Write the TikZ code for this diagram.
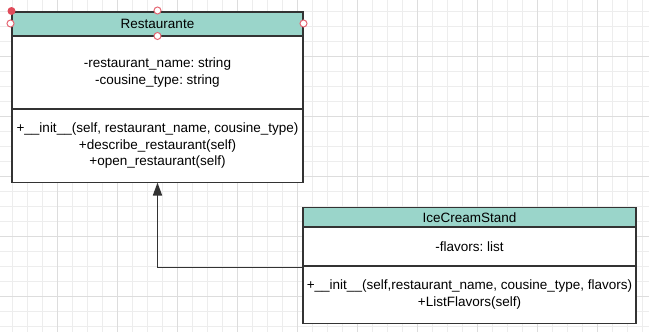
\documentclass[tikz,border=0pt]{standalone}
\usepackage{fontspec}
\setmainfont{Liberation Sans}
\usepackage{xcolor}
\usepackage{tikz}
\usetikzlibrary{
  arrows.meta,
  positioning
}
\definecolor{umlteal}{RGB}{154, 213, 202}
\definecolor{umlline}{RGB}{51, 51, 51}
\definecolor{gridminor}{RGB}{237, 237, 237}
\definecolor{gridmajor}{RGB}{221, 221, 221}
\definecolor{handlered}{RGB}{224, 75, 90}
\frenchspacing

\begin{document}
\begin{tikzpicture}[
  x=1pt, y=-1pt,
  umlbase/.style={
    draw=umlline, line width=1.3pt, anchor=north west,
    inner sep=0pt, outer sep=0pt, align=center,
    font=\fontsize{13.5}{16.5}\selectfont
  },
  headbox/.style={umlbase, fill=umlteal},
  partbox/.style={umlbase, fill=white},
  inherit/.style={-{Triangle[length=13pt, width=9pt]}, line width=1.5pt, draw=umlline},
  handle/.style={circle, draw=handlered!85, fill=white, line width=1pt, minimum size=7pt, inner sep=0pt},
  handlesel/.style={circle, fill=handlered, minimum size=8pt, inner sep=0pt}
]
\useasboundingbox (0,0) rectangle (649,332);
% grid paper
\foreach \k in {0,...,44}
  \draw[gridminor, line width=0.8pt] (-3+15*\k, 0) -- (-3+15*\k, 332);
\foreach \k in {0,...,23}
  \draw[gridminor, line width=0.8pt] (0, -3.3+15*\k) -- (649, -3.3+15*\k);
\foreach \k in {0,...,11}
  \draw[gridmajor, line width=0.8pt] (-3+60*\k, 0) -- (-3+60*\k, 332);
\foreach \k in {0,...,6}
  \draw[gridmajor, line width=0.8pt] (0, -3.3+60*\k) -- (649, -3.3+60*\k);

% class Restaurante
\node[headbox, minimum width=291pt, minimum height=24pt] (resthead) at (12,12) {Restaurante};
\node[partbox, minimum width=291pt, minimum height=73pt] (restattr) at (resthead.south west)
  {-restaurant\_name: string\\-cousine\_type: string};
\node[partbox, minimum width=291pt, minimum height=73.5pt] (restmeth) at (restattr.south west)
  {+\_\_init\_\_(self, restaurant\_name, cousine\_type)\\+describe\_restaurant(self)\\+open\_restaurant(self)};

% class IceCreamStand
\node[headbox, minimum width=333pt, minimum height=19.5pt] (icehead) at (303,207.5) {IceCreamStand};
\node[partbox, minimum width=333pt, minimum height=39pt] (iceattr) at (icehead.south west)
  {-flavors: list};
\node[partbox, minimum width=333pt, minimum height=57.5pt] (icemeth) at (iceattr.south west)
  {+\_\_init\_\_(self,restaurant\_name, cousine\_type, flavors)\\+ListFlavors(self)};

% generalisation
\draw[inherit] ([yshift=-1.5pt]icemeth.north west) -| (restmeth.south);

% selection handles
\node[handlesel] (hsel) at (11.5,11) {};
\node[handle] (htop) at (157.5,10.5) {};
\node[handle] (hleft) at (10.5,23.5) {};
\node[handle] (hright) at (303.5,23.5) {};
\node[handle] (hbottom) at (157.5,36) {};
\end{tikzpicture}
\end{document}
